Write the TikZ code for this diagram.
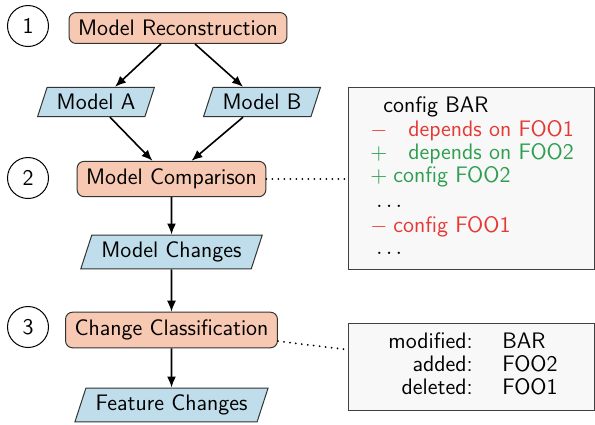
\documentclass[tikz,border=0pt]{standalone}
\usepackage{fontspec}
\usetikzlibrary{shapes.geometric,arrows.meta}
\definecolor{procfill}{HTML}{F7C8B2}
\definecolor{datafill}{HTML}{BFDDEA}
\definecolor{notefill}{HTML}{F8F8F8}
\definecolor{delred}{HTML}{E53935}
\definecolor{addgreen}{HTML}{2E9E4F}
\begin{document}
\begin{tikzpicture}[x=0.5pt,y=-0.5pt,
  every node/.style={font=\fontsize{11.2}{13.5}\selectfont\sffamily},
  proc/.style={draw=black!80, fill=procfill, rounded corners=3.5pt,
    inner xsep=4.5pt, inner ysep=3.8pt, line width=0.5pt},
  data/.style={draw=black!80, fill=datafill, trapezium,
    trapezium left angle=72, trapezium right angle=108,
    inner xsep=4.8pt, inner ysep=3.4pt, line width=0.5pt},
  stage/.style={draw, circle, minimum size=20.5pt, inner sep=0pt, line width=0.5pt},
  note/.style={draw=black!75, fill=notefill, line width=0.5pt, inner sep=0pt,
    anchor=north west, minimum width=123pt},
  arr/.style={-{Latex[length=5.5pt,width=4.5pt]}, line width=0.8pt},
  link/.style={line width=1pt, line cap=round, dash pattern=on 0pt off 3pt},
  txt/.style={anchor=base west, inner sep=0pt},
  rtxt/.style={anchor=base east, inner sep=0pt}
]
\useasboundingbox (0,0) rectangle (595,424);

% stage numbers
\node[stage] (s1) at (28,26) {1};
\node[stage] (s2) at (28,178) {2};
\node[stage] (s3) at (28,327) {3};

% processing steps and data
\node[proc] (mr) at (178,28) {Model Reconstruction};
\node[data] (ma) at (96,102) {Model A};
\node[data] (mb) at (262,102) {Model B};
\node[proc] (mc) at (171.5,179) {Model Comparison};
\node[data] (mch) at (171.5,252) {Model Changes};
\node[proc] (cc) at (171.5,330) {Change Classification};
\node[data] (fc) at (171.5,405) {Feature Changes};

% flow
\draw[arr] ([xshift=-8.5pt]mr.south) -- ([xshift=9.5pt]ma.north);
\draw[arr] ([xshift=8.5pt]mr.south) -- ([xshift=-9.5pt]mb.north);
\draw[arr] ([xshift=7pt]ma.south) -- ([xshift=-9.5pt]mc.north);
\draw[arr] ([xshift=-9.5pt]mb.south) -- ([xshift=10pt]mc.north);
\draw[arr] (mc) -- (mch);
\draw[arr] (mch) -- (cc);
\draw[arr] (cc) -- (fc);

% diff of the models
\node[note, minimum height=91pt] (diff) at (348,87) {};
\node[txt] (d1) at (383,112) {config BAR};
\node[txt, text=delred] (d2) at (370,136) {\makebox[19pt][l]{$-$}depends on FOO1};
\node[txt, text=addgreen] (d3) at (370,159) {\makebox[19pt][l]{$+$}depends on FOO2};
\node[txt, text=addgreen] (d4) at (370,182) {\makebox[11.5pt][l]{$+$}config FOO2};
\node[txt] (d5) at (376,207) {$\ldots$};
\node[txt, text=delred] (d6) at (370,232) {\makebox[11.5pt][l]{$-$}config FOO1};
\node[txt] (d7) at (376,254) {$\ldots$};

% classification result
\node[note, minimum height=43.5pt] (cls) at (348,323) {};
\node[rtxt] (k1) at (473,348) {modified:};
\node[rtxt] (k2) at (473,371) {added:};
\node[rtxt] (k3) at (473,394) {deleted:};
\node[txt] (v1) at (502,348) {BAR};
\node[txt] (v2) at (502,371) {FOO2};
\node[txt] (v3) at (502,394) {FOO1};

% links to the details
\draw[link] (mc.east) -- (mc.east -| diff.west);
\draw[link] (cc.-6) -- (cls.172);
\end{tikzpicture}
\end{document}
